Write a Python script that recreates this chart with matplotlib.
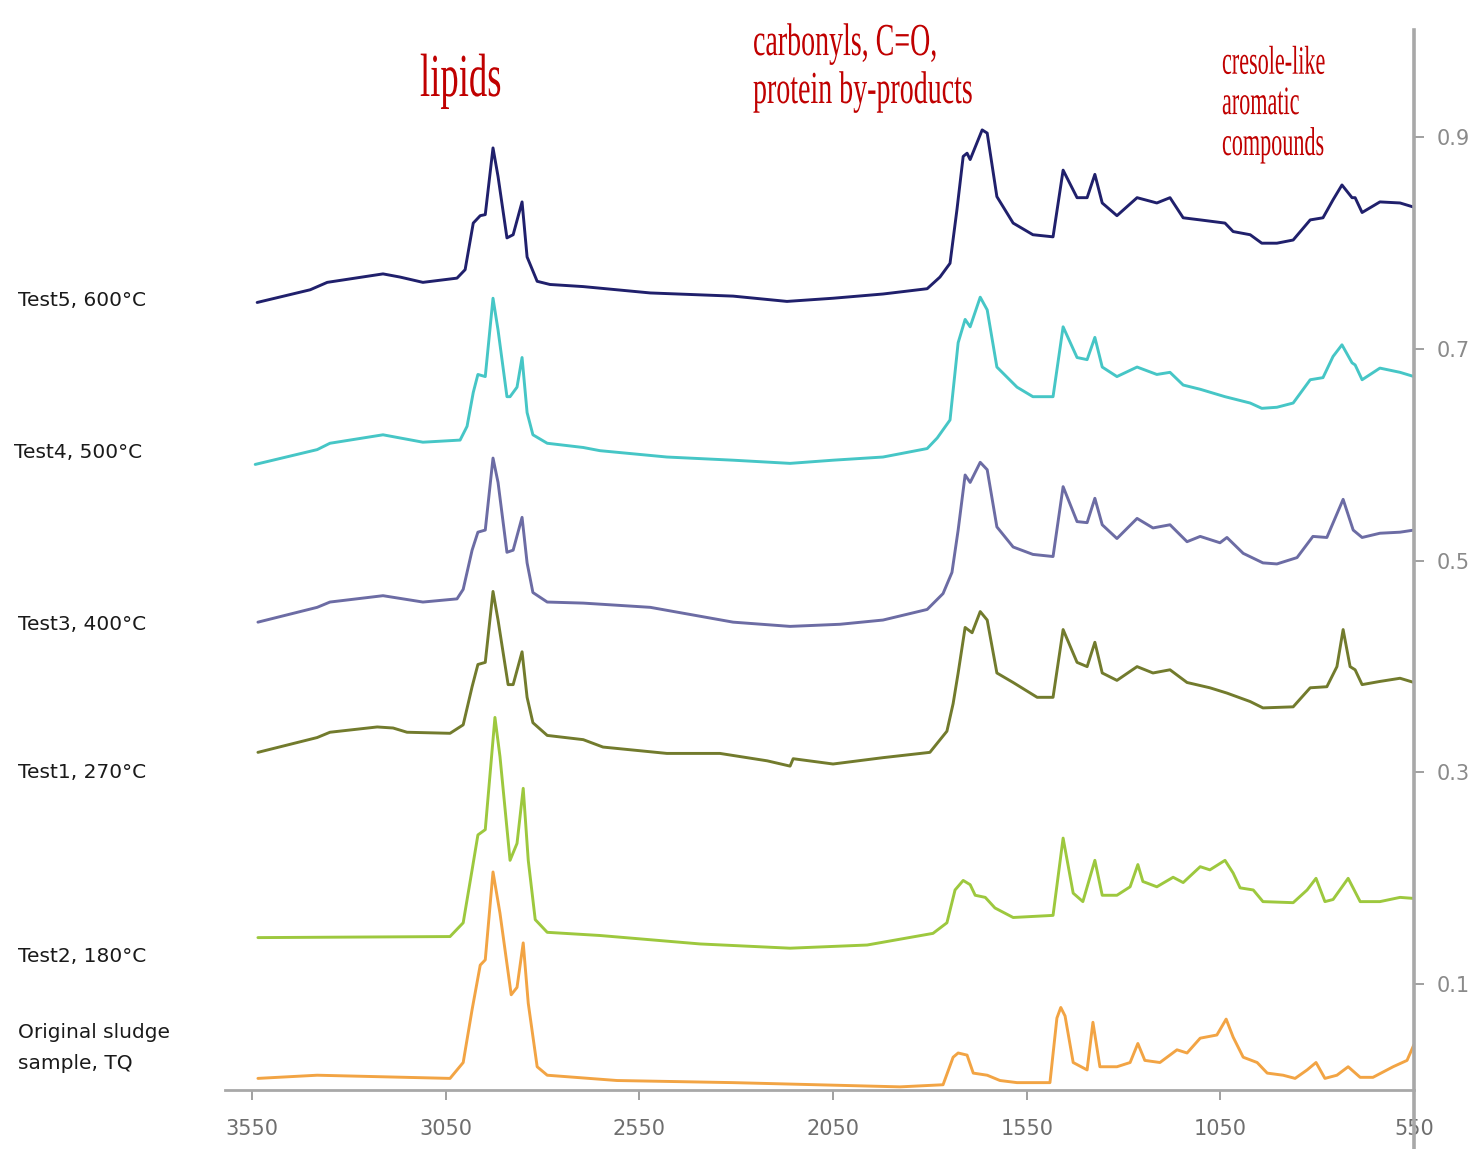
import matplotlib
matplotlib.use("Agg")
import matplotlib.pyplot as plt
from matplotlib.patheffects import AbstractPathEffect
from matplotlib.transforms import Affine2D

# ---------------- data (wavenumber cm-1, stacked absorbance) ----------------
wn_test5 = [3537, 3400, 3356, 3212, 3168, 3109, 3021, 3000, 2979, 2961, 2948, 2928, 2915,
            2892, 2876, 2853, 2840, 2814, 2781, 2695, 2522, 2308, 2169, 2050, 1921, 1807,
            1774, 1748, 1730, 1714, 1704, 1696, 1665, 1652, 1627, 1585, 1534, 1482, 1456,
            1420, 1394, 1374, 1355, 1317, 1265, 1214, 1180, 1146, 1102, 1038, 1017, 973,
            943, 904, 862, 818, 785, 759, 736, 710, 702, 684, 638, 586, 550]
ab_test5 = [0.744, 0.756, 0.763, 0.771, 0.768, 0.763, 0.767, 0.775, 0.819, 0.826, 0.827, 0.890,
            0.863, 0.805, 0.808, 0.839, 0.787, 0.764, 0.761, 0.759, 0.753, 0.750, 0.745, 0.748,
            0.752, 0.757, 0.768, 0.781, 0.832, 0.882, 0.885, 0.879, 0.907, 0.904, 0.844, 0.819,
            0.808, 0.806, 0.869, 0.843, 0.843, 0.865, 0.838, 0.826, 0.843, 0.838, 0.843, 0.824,
            0.822, 0.819, 0.811, 0.808, 0.800, 0.800, 0.803, 0.822, 0.824, 0.841, 0.855, 0.843,
            0.843, 0.829, 0.839, 0.838, 0.834]

wn_test4 = [3542, 3382, 3349, 3212, 3168, 3109, 3013, 2995, 2979, 2967, 2948, 2928, 2915,
            2892, 2884, 2866, 2853, 2840, 2825, 2788, 2695, 2652, 2479, 2308, 2161, 2050,
            1921, 1807, 1781, 1748, 1727, 1709, 1696, 1670, 1652, 1627, 1575, 1534, 1482,
            1456, 1420, 1394, 1374, 1355, 1317, 1265, 1214, 1180, 1146, 1102, 1038, 973,
            943, 904, 862, 818, 785, 759, 736, 710, 702, 684, 638, 586, 550]
ab_test4 = [0.591, 0.605, 0.611, 0.619, 0.616, 0.612, 0.614, 0.627, 0.659, 0.676, 0.674, 0.748,
            0.718, 0.655, 0.655, 0.664, 0.692, 0.640, 0.619, 0.611, 0.607, 0.604, 0.598, 0.595,
            0.592, 0.595, 0.598, 0.606, 0.616, 0.633, 0.706, 0.728, 0.721, 0.749, 0.737, 0.683,
            0.664, 0.655, 0.655, 0.721, 0.692, 0.690, 0.711, 0.683, 0.674, 0.683, 0.676, 0.678,
            0.666, 0.662, 0.655, 0.649, 0.644, 0.645, 0.649, 0.671, 0.673, 0.693, 0.704, 0.687,
            0.685, 0.671, 0.682, 0.678, 0.674]

wn_test3 = [3535, 3382, 3349, 3212, 3109, 3021, 3005, 2982, 2967, 2948, 2928, 2915, 2892,
            2876, 2853, 2840, 2825, 2788, 2695, 2522, 2308, 2161, 2032, 1921, 1807, 1766,
            1743, 1727, 1709, 1696, 1670, 1652, 1627, 1585, 1534, 1482, 1456, 1420, 1394,
            1374, 1355, 1317, 1265, 1224, 1180, 1136, 1102, 1051, 1033, 991, 940, 904, 852,
            811, 775, 733, 707, 684, 638, 586, 550]
ab_test3 = [0.442, 0.456, 0.461, 0.467, 0.461, 0.464, 0.473, 0.510, 0.527, 0.529, 0.597, 0.574,
            0.508, 0.510, 0.541, 0.498, 0.470, 0.461, 0.460, 0.456, 0.442, 0.438, 0.440, 0.444,
            0.454, 0.469, 0.489, 0.529, 0.581, 0.574, 0.593, 0.586, 0.532, 0.513, 0.506, 0.504,
            0.570, 0.537, 0.536, 0.559, 0.534, 0.521, 0.540, 0.531, 0.534, 0.518, 0.523, 0.517,
            0.522, 0.507, 0.498, 0.497, 0.503, 0.523, 0.522, 0.558, 0.529, 0.522, 0.526, 0.527,
            0.529]

wn_test1 = [3535, 3382, 3349, 3227, 3186, 3150, 3039, 3005, 2982, 2967, 2948, 2928, 2915,
            2889, 2876, 2853, 2840, 2825, 2788, 2695, 2644, 2479, 2342, 2220, 2161, 2153,
            2050, 1921, 1800, 1756, 1740, 1727, 1709, 1691, 1670, 1652, 1627, 1585, 1523,
            1482, 1456, 1420, 1394, 1374, 1355, 1317, 1265, 1224, 1180, 1136, 1077, 1033,
            973, 940, 862, 818, 775, 749, 733, 715, 702, 684, 638, 586, 550]
ab_test1 = [0.319, 0.333, 0.338, 0.343, 0.342, 0.338, 0.337, 0.345, 0.381, 0.402, 0.404, 0.471,
            0.444, 0.383, 0.383, 0.414, 0.371, 0.347, 0.335, 0.331, 0.324, 0.318, 0.318, 0.311,
            0.306, 0.313, 0.308, 0.314, 0.319, 0.339, 0.365, 0.394, 0.437, 0.432, 0.452, 0.444,
            0.394, 0.385, 0.371, 0.371, 0.435, 0.404, 0.400, 0.423, 0.394, 0.387, 0.400, 0.394,
            0.397, 0.385, 0.380, 0.375, 0.367, 0.361, 0.362, 0.380, 0.381, 0.400, 0.435, 0.400,
            0.397, 0.383, 0.386, 0.389, 0.385]

wn_test2 = [3535, 3039, 3005, 2982, 2967, 2948, 2923, 2910, 2884, 2866, 2850, 2837, 2819,
            2788, 2652, 2393, 2161, 1962, 1792, 1756, 1735, 1714, 1696, 1683, 1657, 1632,
            1585, 1482, 1456, 1430, 1405, 1374, 1355, 1317, 1283, 1263, 1250, 1214, 1172,
            1146, 1102, 1077, 1038, 1017, 999, 965, 940, 862, 826, 803, 780, 759, 720, 689,
            638, 586, 550]
ab_test2 = [0.144, 0.145, 0.158, 0.208, 0.241, 0.246, 0.352, 0.315, 0.217, 0.233, 0.285, 0.217,
            0.161, 0.149, 0.146, 0.138, 0.134, 0.137, 0.148, 0.158, 0.189, 0.198, 0.194, 0.184,
            0.182, 0.172, 0.163, 0.165, 0.238, 0.186, 0.178, 0.217, 0.184, 0.184, 0.192, 0.213,
            0.197, 0.192, 0.201, 0.196, 0.211, 0.208, 0.217, 0.205, 0.191, 0.189, 0.178, 0.177,
            0.189, 0.200, 0.178, 0.180, 0.200, 0.178, 0.178, 0.182, 0.181]

wn_orig = [3535, 3382, 3039, 3005, 2982, 2961, 2948, 2928, 2910, 2881, 2866, 2850, 2837,
           2814, 2788, 2608, 2308, 1877, 1766, 1740, 1727, 1704, 1688, 1652, 1619, 1575,
           1490, 1472, 1462, 1451, 1430, 1394, 1379, 1361, 1317, 1283, 1263, 1245, 1206, 1162,
           1136, 1102, 1059, 1035, 1017, 991, 955, 929, 888, 857, 826, 803, 780, 749, 720,
           689, 656, 604, 568, 550]
ab_orig = [0.011, 0.014, 0.011, 0.026, 0.076, 0.118, 0.123, 0.206, 0.167, 0.090, 0.097, 0.139,
           0.082, 0.022, 0.014, 0.009, 0.007, 0.003, 0.005, 0.031, 0.035, 0.033, 0.016, 0.014,
           0.009, 0.007, 0.007, 0.068, 0.078, 0.070, 0.026, 0.019, 0.064, 0.022, 0.022, 0.026,
           0.044, 0.028, 0.026, 0.038, 0.035, 0.049, 0.052, 0.067, 0.050, 0.031, 0.026, 0.016,
           0.014, 0.011, 0.019, 0.026, 0.011, 0.014, 0.022, 0.012, 0.012, 0.022, 0.028, 0.043]

series_labels = ["Test5, 600°C", "Test4, 500°C", "Test3, 400°C", "Test1, 270°C",
                 "Test2, 180°C", "Original sludge\nsample, TQ"]
series_colors = ["#20206c", "#46c6c6", "#6c6ca4", "#727b2d", "#9dc83e", "#f2a444"]

x_ticks = [3550, 3050, 2550, 2050, 1550, 1050, 550]
y_ticks = [0.1, 0.3, 0.5, 0.7, 0.9]

annotations = ["lipids", "carbonyls, C=O,\nprotein by-products", "cresole-like\naromatic\ncompounds"]


# -------- horizontal condensing of text glyphs (text stays a Text artist) -----
class HStretch(AbstractPathEffect):
    def __init__(self, sx):
        super().__init__()
        self.sx = sx

    def draw_path(self, renderer, gc, tpath, affine, rgbFace=None):
        renderer.draw_path(gc, tpath, Affine2D().scale(self.sx, 1.0) + affine, rgbFace)


W, H = 1477, 1149
fig = plt.figure(figsize=(W / 100, H / 100), dpi=100)
fig.patch.set_facecolor("white")

ax = fig.add_axes([225 / W, 0.0, (1414 - 225) / W, 1 - 30 / H])

series = [(wn_test5, ab_test5), (wn_test4, ab_test4), (wn_test3, ab_test3),
          (wn_test1, ab_test1), (wn_test2, ab_test2), (wn_orig, ab_orig)]
for (xs, ys), c in zip(series, series_colors):
    ax.plot(xs, ys, color=c, lw=2.1, solid_joinstyle="round", solid_capstyle="round")

ax.set_xlim(3620, 550)
ax.set_ylim(-0.0557, 1.0014)

for s in ["left", "top"]:
    ax.spines[s].set_visible(False)
ax.spines["right"].set_color("#a8a8a8")
ax.spines["right"].set_linewidth(2.6)
ax.spines["bottom"].set_position(("data", 0))
ax.spines["bottom"].set_color("#a8a8a8")
ax.spines["bottom"].set_linewidth(2.0)

ax.set_xticks(x_ticks)
ax.set_xticklabels([str(v) for v in x_ticks])
ax.tick_params(axis="x", direction="out", length=7, width=1.2, color="#909090",
               labelsize=15, labelcolor="#6e6e6e", pad=14)

ax.yaxis.tick_right()
ax.set_yticks(y_ticks)
ax.set_yticklabels([f"{v:.1f}" for v in y_ticks])
ax.tick_params(axis="y", direction="out", length=7, width=1.2, color="#909090",
               labelsize=15, labelcolor="#8a8a8a", pad=9)

# left series labels
label_pos = [(18, 300), (14, 452), (18, 625), (18, 772), (18, 957), (18, 1048)]
for txt, (px, py) in zip(series_labels, label_pos):
    fig.text(px / W, 1 - py / H, txt, ha="left", va="center", fontsize=14.5,
             color="#1a1a1a", family="DejaVu Sans", linespacing=1.75)

# red annotations (condensed serif)
red = "#c00000"
fig.text(420 / W, 1 - 96 / H, annotations[0], ha="left", va="baseline", fontsize=44,
         color=red, family="Liberation Serif",
         path_effects=[HStretch(0.60)])
fig.text(753 / W, 1 - 103 / H, annotations[1], ha="left", va="baseline", fontsize=33,
         color=red, family="Liberation Serif", linespacing=1.15,
         path_effects=[HStretch(0.61)])
fig.text(1222 / W, 1 - 155 / H, annotations[2], ha="left", va="baseline", fontsize=29,
         color=red, family="Liberation Serif", linespacing=1.12,
         path_effects=[HStretch(0.55)])

fig.savefig("out.png", dpi=100, facecolor="white")
